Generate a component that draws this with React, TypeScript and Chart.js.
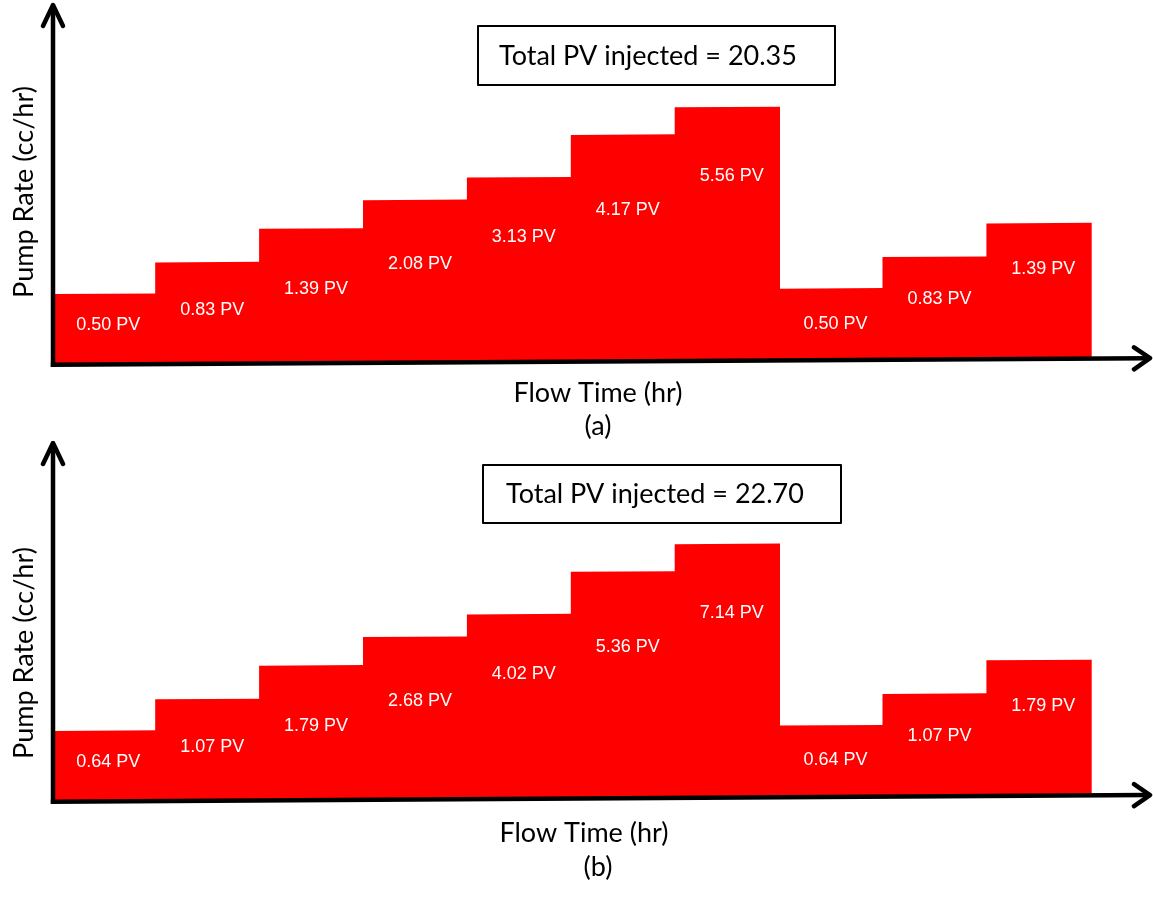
import React, { useEffect, useRef } from "react";
import { Chart, registerables } from "chart.js";

Chart.register(...registerables);

// Injection schedule: ten pumping stages of equal duration
const stages = ["1", "2", "3", "4", "5", "6", "7", "8", "9", "10"];
// Pump rate of each stage (same schedule in both experiments)
const pumpRate = [7.0, 10.1, 13.4, 16.2, 18.4, 22.6, 25.3, 7.1, 10.2, 13.5];
// Pore volumes injected during each stage
const pvInjectedA = [0.5, 0.83, 1.39, 2.08, 3.13, 4.17, 5.56, 0.5, 0.83, 1.39];
const pvInjectedB = [0.64, 1.07, 1.79, 2.68, 4.02, 5.36, 7.14, 0.64, 1.07, 1.79];
const totalPvA = 20.35;
const totalPvB = 22.7;

const yTitle = "Pump Rate (cc/hr)";
const xTitle = "Flow Time (hr)";

const W = 1153;
const SKEW = -0.006; // the sketch's baseline tilts up slightly to the right
const LABEL_DROP = [30.5, 47.5, 59.5, 63.5, 59.5, 75, 68.5, 34.5, 41.5, 45.5];
const TITLE_FONT = "27px Lato";
const BAR_FONT = "18px 'Liberation Sans'";

type PanelCfg = {
  top: number;
  height: number;
  pv: number[];
  total: number;
  tag: string;
  padTop: number;
  padBottom: number;
  arrowTop: number;
  box: { x: number; y: number; w: number; h: number; tx: number; ty: number };
  xTitlePos: [number, number];
  tagPos: [number, number];
  yTitlePos: [number, number];
};

const panels: PanelCfg[] = [
  {
    top: 0,
    height: 441,
    pv: pvInjectedA,
    total: totalPvA,
    tag: "(a)",
    padTop: 4.8,
    padBottom: 76.2,
    arrowTop: 5,
    box: { x: 478, y: 26, w: 357, h: 59, tx: 499, ty: 65 },
    xTitlePos: [598, 402],
    tagPos: [598, 426],
    yTitlePos: [24, 192],
  },
  {
    top: 441,
    height: 461,
    pv: pvInjectedB,
    total: totalPvB,
    tag: "(b)",
    padTop: 0.65,
    padBottom: 100.35,
    arrowTop: 2,
    box: { x: 483, y: 24, w: 358, h: 58, tx: 506, ty: 62 },
    xTitlePos: [584, 401],
    tagPos: [598, 426.5],
    yTitlePos: [24, 212],
  },
];

function makeSketchPlugin(cfg: PanelCfg) {
  return {
    id: "stepSketch",
    beforeDatasetsDraw(chart: Chart) {
      const { ctx, chartArea } = chart;
      ctx.save();
      ctx.transform(1, SKEW, 0, 1, 0, -SKEW * chartArea.left);
    },
    afterDatasetsDraw(chart: Chart) {
      const { ctx, chartArea } = chart;
      ctx.restore();
      // stage labels (pore volumes injected)
      const meta = chart.getDatasetMeta(0);
      ctx.save();
      ctx.fillStyle = "#ffffff";
      ctx.font = BAR_FONT;
      ctx.textAlign = "center";
      ctx.textBaseline = "middle";
      meta.data.forEach((el: any, i: number) => {
        const top = el.y + SKEW * (el.x - chartArea.left);
        ctx.fillText(`${cfg.pv[i].toFixed(2)} PV`, el.x + 4.3, top + LABEL_DROP[i]);
      });
      ctx.restore();
    },
    afterDraw(chart: Chart) {
      const { ctx, chartArea } = chart;
      const left = chartArea.left;
      const base = (x: number) => chartArea.bottom + SKEW * (x - left);
      ctx.save();
      ctx.strokeStyle = "#000000";
      ctx.lineWidth = 4.5;

      // vertical axis with open arrowhead
      const ax = left + 1;
      ctx.lineCap = "butt";
      ctx.beginPath();
      ctx.moveTo(ax, base(ax) + 2.2);
      ctx.lineTo(ax, cfg.arrowTop + 2);
      ctx.stroke();
      ctx.lineCap = "round";
      ctx.lineJoin = "round";
      ctx.beginPath();
      ctx.moveTo(ax - 10, cfg.arrowTop + 21);
      ctx.lineTo(ax, cfg.arrowTop);
      ctx.lineTo(ax + 10, cfg.arrowTop + 21);
      ctx.stroke();

      // horizontal axis with open arrowhead
      const x0 = ax - 2.2;
      const x1 = 1150;
      ctx.lineCap = "butt";
      ctx.beginPath();
      ctx.moveTo(x0, base(x0));
      ctx.lineTo(x1 - 2, base(x1 - 2));
      ctx.stroke();
      ctx.lineCap = "round";
      ctx.beginPath();
      ctx.moveTo(x1 - 16, base(x1 - 16) - 11);
      ctx.lineTo(x1, base(x1));
      ctx.lineTo(x1 - 16, base(x1 - 16) + 11);
      ctx.stroke();

      // total box
      const b = cfg.box;
      ctx.lineWidth = 2;
      ctx.strokeRect(b.x, b.y, b.w, b.h);
      ctx.fillStyle = "#000000";
      ctx.font = TITLE_FONT;
      ctx.textAlign = "left";
      ctx.textBaseline = "alphabetic";
      ctx.fillText(`Total PV injected = ${cfg.total.toFixed(2)}`, b.tx, b.ty);

      // axis titles
      ctx.textAlign = "center";
      ctx.fillText(xTitle, cfg.xTitlePos[0], cfg.xTitlePos[1]);
      ctx.textBaseline = "middle";
      ctx.fillText(cfg.tag, cfg.tagPos[0], cfg.tagPos[1]);
      ctx.save();
      ctx.translate(cfg.yTitlePos[0], cfg.yTitlePos[1]);
      ctx.rotate(-Math.PI / 2);
      ctx.fillText(yTitle, 0, 0);
      ctx.restore();

      ctx.restore();
    },
  };
}

function StepPanel({ cfg }: { cfg: PanelCfg }) {
  const ref = useRef<HTMLCanvasElement | null>(null);
  useEffect(() => {
    if (!ref.current) return;
    const chart = new Chart(ref.current, {
      type: "bar",
      data: {
        labels: stages,
        datasets: [
          {
            data: pumpRate,
            backgroundColor: "#ff0000",
            borderWidth: 0,
            inflateAmount: 0.7,
            barPercentage: 1,
            categoryPercentage: 1,
            clip: false as any,
          } as any,
        ],
      },
      options: {
        animation: false,
        responsive: false,
        maintainAspectRatio: false,
        devicePixelRatio: 1,
        layout: {
          padding: { left: 52, right: W - 1091, top: cfg.padTop, bottom: cfg.padBottom },
        },
        scales: {
          x: { display: false },
          y: { display: false, min: 0, max: 36 },
        },
        plugins: {
          legend: { display: false },
          tooltip: { enabled: false },
        },
      },
      plugins: [makeSketchPlugin(cfg)],
    });
    return () => chart.destroy();
  }, [cfg]);
  return (
    <canvas
      ref={ref}
      width={W}
      height={cfg.height}
      style={{ position: "absolute", left: 0, top: cfg.top, width: W, height: cfg.height, display: "block" }}
    />
  );
}

export default function App() {
  return (
    <div style={{ position: "absolute", left: 0, top: 0, width: W, height: 902, background: "#ffffff", overflow: "hidden" }}>
      {panels.map((p) => (
        <StepPanel key={p.tag} cfg={p} />
      ))}
    </div>
  );
}
